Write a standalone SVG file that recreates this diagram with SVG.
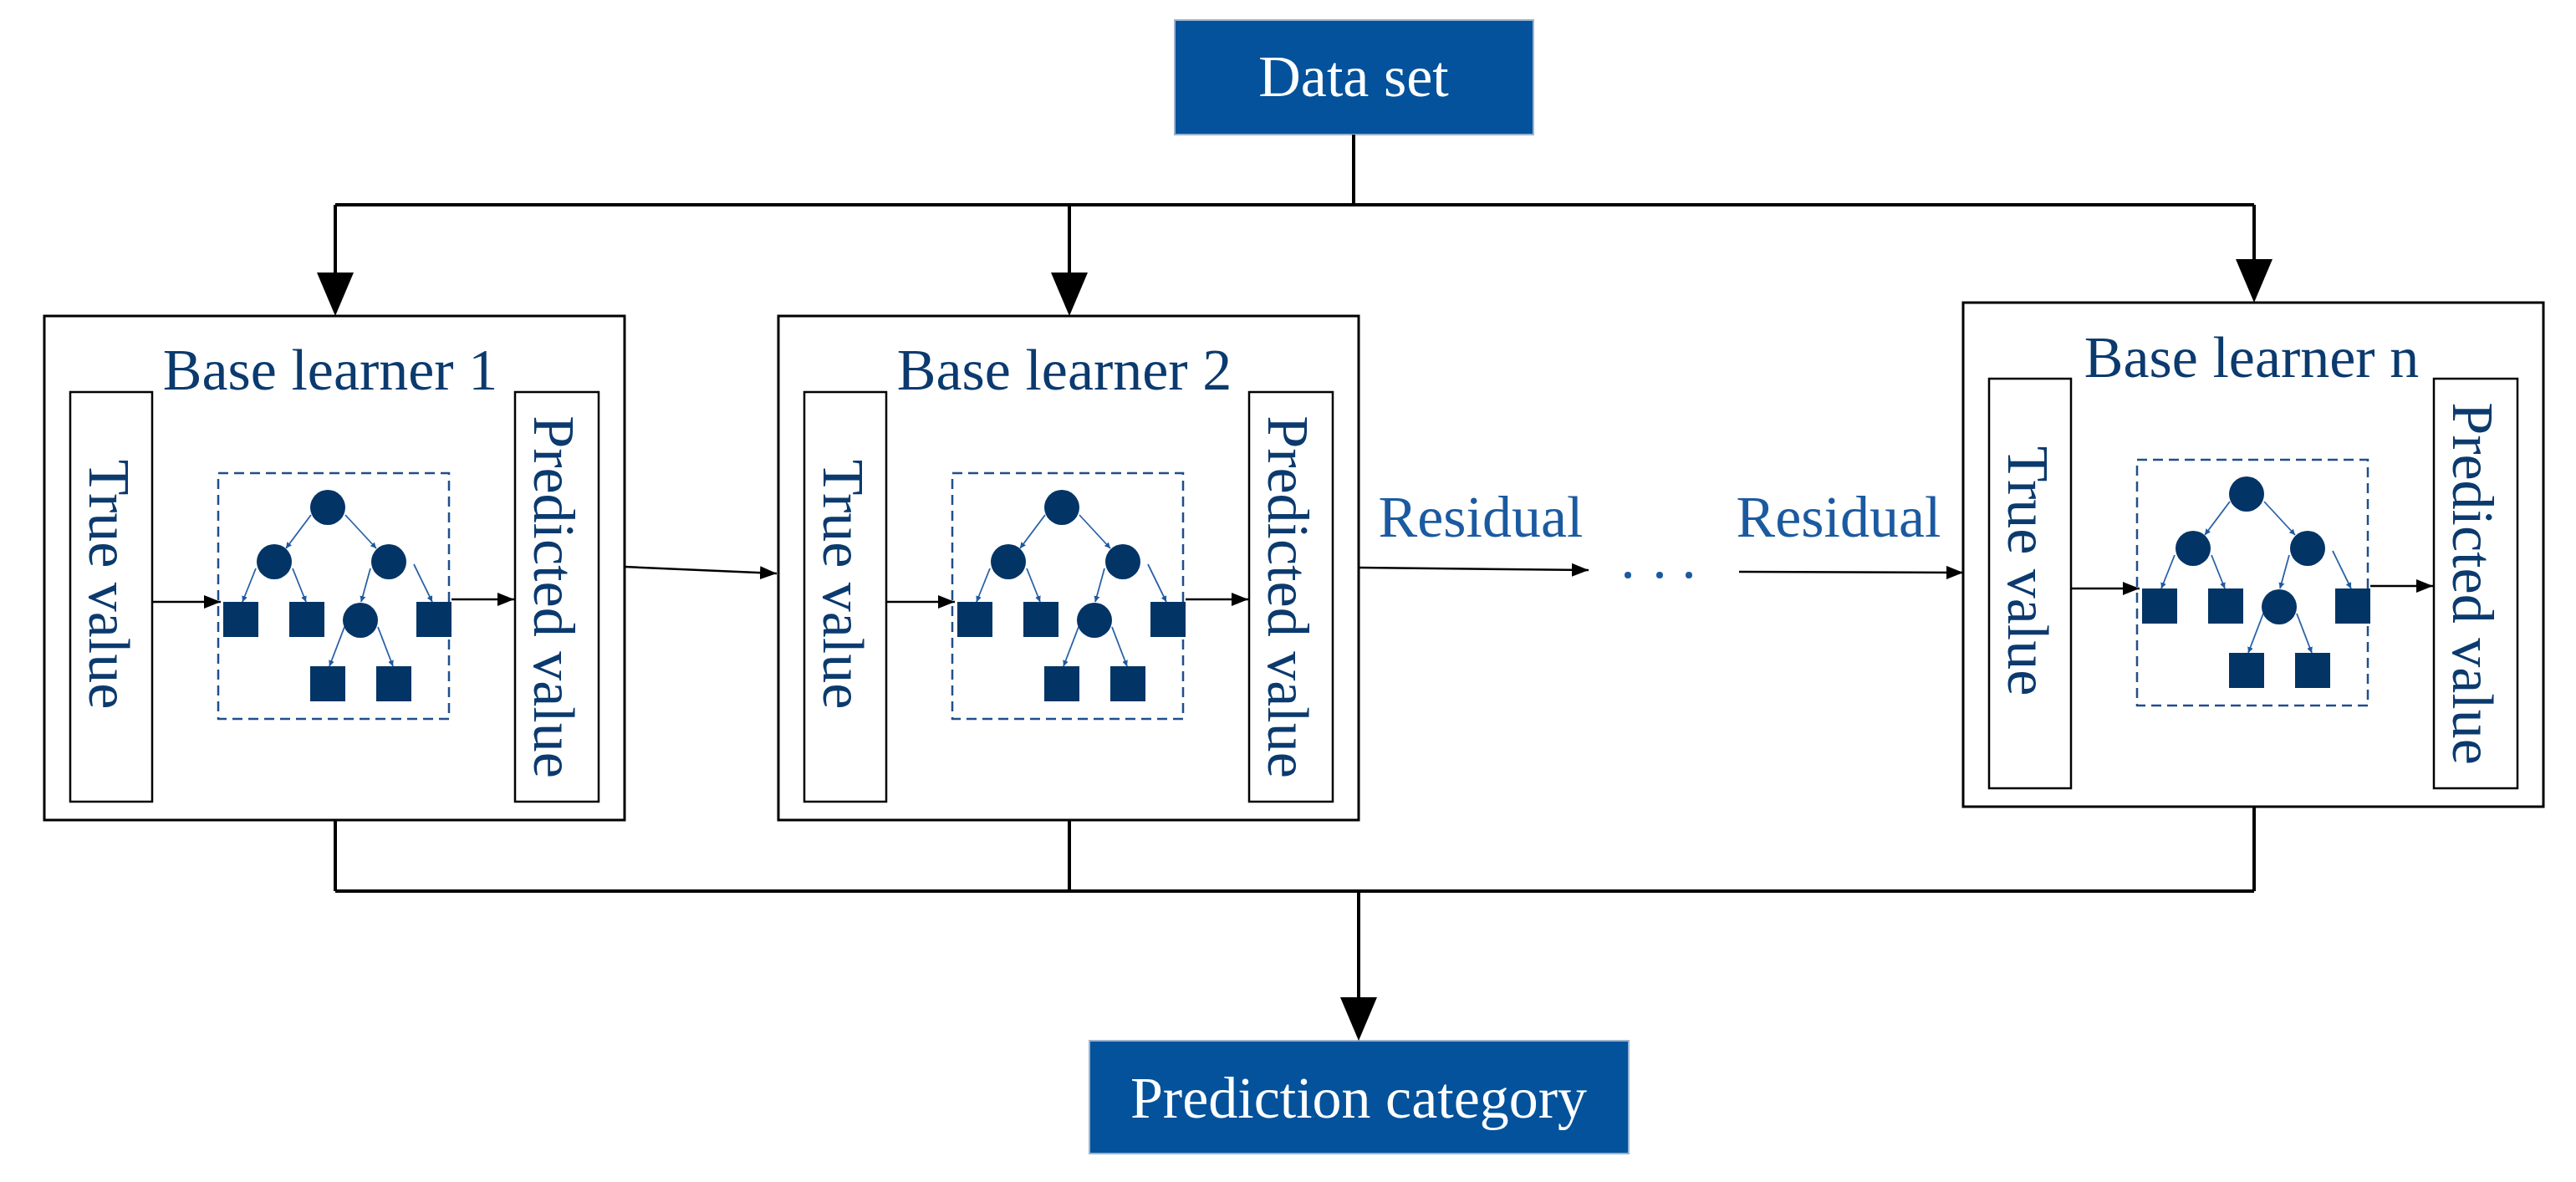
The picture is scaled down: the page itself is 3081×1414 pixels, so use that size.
<svg xmlns="http://www.w3.org/2000/svg" width="3081" height="1414" viewBox="0 0 3081 1414">
<defs>
<style>
.frame{fill:#fff;stroke:#000;stroke-width:3}
.inner{fill:#fff;stroke:#000;stroke-width:2.5}
.dash{fill:none;stroke:#1f4e8c;stroke-width:2.5;stroke-dasharray:12 7}
.nd{fill:#033466}
.te{stroke:#2a62a8;stroke-width:1.8;fill:none;marker-end:url(#ta)}
.t{font-family:"Liberation Serif","Times New Roman",serif;font-size:70px;fill:#0b3a6e}
.tw{font-family:"Liberation Serif","Times New Roman",serif;font-size:70px;fill:#fff}
.tr{font-family:"Liberation Serif","Times New Roman",serif;font-size:70px;fill:#1b5aa0}
.ln{stroke:#000;stroke-width:4;fill:none}
.sl{stroke:#000;stroke-width:2.5;fill:none;marker-end:url(#sa)}
</style>
<marker id="ta" viewBox="0 0 10 10" refX="10" refY="5" markerWidth="7" markerHeight="7" orient="auto" markerUnits="userSpaceOnUse"><path d="M0,0 L10,5 L0,10 Z" fill="#1b5aa0"/></marker>
<marker id="sa" viewBox="0 0 10 10" refX="10" refY="5" markerWidth="20" markerHeight="16" orient="auto" markerUnits="userSpaceOnUse" preserveAspectRatio="none"><path d="M0,0 L10,5 L0,10 Z" fill="#000"/></marker>
<g id="learner">
<rect class="frame" x="53" y="378" width="694" height="603"/>
<rect class="inner" x="84" y="469" width="98" height="490"/>
<rect class="inner" x="616" y="469" width="100" height="490"/>
<text class="t" transform="translate(107,699) rotate(90)" text-anchor="middle">True value</text>
<text class="t" transform="translate(639,714) rotate(90)" text-anchor="middle">Predicted value</text>
<rect class="dash" x="261" y="566" width="276" height="294"/>
<path class="te" d="M372,616 L342,656"/>
<path class="te" d="M413,616 L450,656"/>
<path class="te" d="M306,680 L290,720"/>
<path class="te" d="M350,680 L366,720"/>
<path class="te" d="M443,680 L432,720"/>
<path class="te" d="M495,675 L517,720"/>
<path class="te" d="M412,750 L394,797"/>
<path class="te" d="M452,750 L470,797"/>
<circle class="nd" cx="392" cy="607" r="21"/>
<circle class="nd" cx="328" cy="672" r="21"/>
<circle class="nd" cx="465" cy="672" r="21"/>
<circle class="nd" cx="431" cy="742" r="21"/>
<rect class="nd" x="267" y="720" width="42" height="42"/>
<rect class="nd" x="346" y="720" width="42" height="42"/>
<rect class="nd" x="498" y="720" width="42" height="42"/>
<rect class="nd" x="371" y="797" width="42" height="42"/>
<rect class="nd" x="450" y="797" width="42" height="42"/>
<path class="sl" d="M182,720 L264,720"/>
<path class="sl" d="M540,717 L615,717"/>
</g>
</defs>
<rect width="3081" height="1414" fill="#fff"/>
<g id="dataset">
<rect x="1405" y="24" width="429" height="137" fill="#03529b" stroke="#9bb4d0" stroke-width="2"/>
<text class="tw" x="1619" y="115" text-anchor="middle">Data set</text>
</g>
<g id="base1"><use href="#learner"/><text class="t" x="395" y="466" text-anchor="middle">Base learner 1</text></g>
<g id="base2"><use href="#learner" transform="translate(878,0)"/><text class="t" x="1273" y="466" text-anchor="middle">Base learner 2</text></g>
<g id="basen"><use href="#learner" transform="translate(2295,-16)"/><text class="t" x="2693" y="451" text-anchor="middle">Base learner n</text></g>
<g id="prediction">
<rect x="1303" y="1245" width="645" height="135" fill="#03529b" stroke="#9bb4d0" stroke-width="2"/>
<text class="tw" x="1625" y="1337" text-anchor="middle">Prediction category</text>
</g>
<g id="labels">
<text class="tr" x="1771" y="642" text-anchor="middle">Residual</text>
<text class="tr" x="2199" y="642" text-anchor="middle">Residual</text>
<circle cx="1947" cy="688" r="4" fill="#1b5aa0"/>
<circle cx="1985" cy="688" r="4" fill="#1b5aa0"/>
<circle cx="2020" cy="688" r="4" fill="#1b5aa0"/>
</g>
<g id="connectors">
<path class="ln" d="M1619,161 L1619,245 M401,245 L2696,245 M401,245 L401,330 M1279,245 L1279,330 M2696,245 L2696,312"/>
<polygon points="379,326 423,326 401,378"/>
<polygon points="1257,326 1301,326 1279,378"/>
<polygon points="2674,310 2718,310 2696,362"/>
<path class="ln" d="M401,981 L401,1066 M1279,981 L1279,1066 M2696,965 L2696,1066 M401,1066 L2696,1066 M1625,1066 L1625,1196"/>
<polygon points="1603,1193 1647,1193 1625,1245"/>
<path class="sl" d="M747,678 L929,686"/>
<path class="sl" d="M1625,679 L1900,682"/>
<path class="sl" d="M2080,684 L2348,685"/>
</g>
</svg>
